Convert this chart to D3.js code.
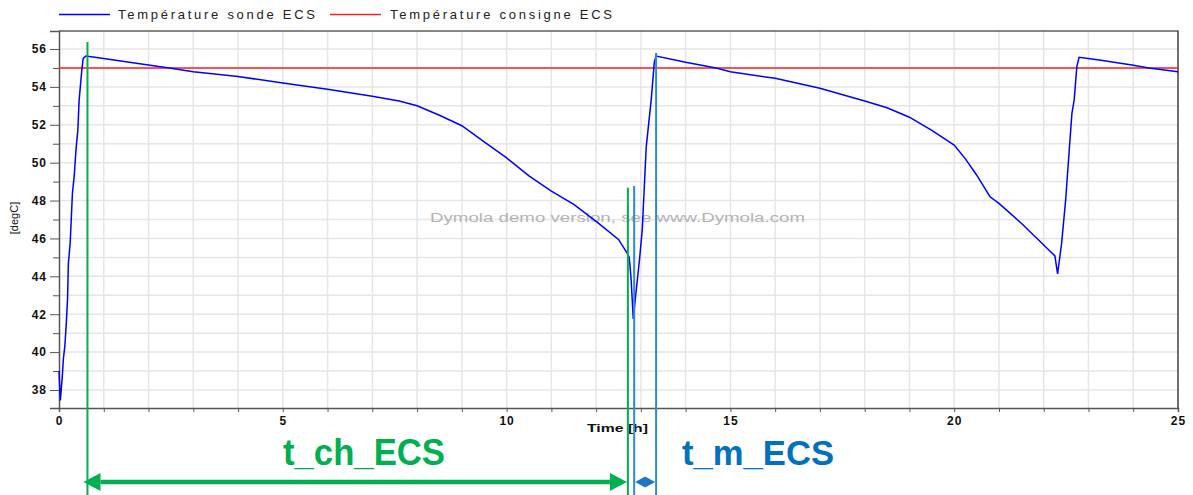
<!DOCTYPE html>
<html>
<head>
<meta charset="utf-8">
<script src="https://cdn.jsdelivr.net/npm/d3@7"></script>
<style>
  body { margin: 0; background: #fff; }
  text { font-family: "Liberation Sans", Arial, sans-serif; }
</style>
</head>
<body>
<svg id="chart" width="1193" height="495"></svg>
<script>
// temps (h) / température sonde ECS (degC)
const time = [0, 0.03, 0.07, 0.10, 0.13, 0.16, 0.19, 0.21, 0.25, 0.27, 0.30, 0.34, 0.38, 0.42, 0.45, 0.51, 0.54, 0.60,
  0.92, 1.65, 2.5, 3, 4, 5, 6, 7, 7.6, 8, 8.5, 9, 9.5, 10, 10.5, 11, 11.5, 12, 12.5, 12.7, 12.74,
  12.78, 12.83, 12.88, 12.97, 13.03, 13.12, 13.23, 13.30, 13.34,
  14, 14.68, 15, 16, 17, 18, 18.5, 19, 19.5, 20, 20.25, 20.5, 20.8, 21, 21.5, 22, 22.25,
  22.31, 22.4, 22.49, 22.57, 22.63, 22.68, 22.74, 22.79, 23.24, 23.97, 24.35, 25];
const sonde = [39.0, 37.45, 38.6, 39.7, 40.3, 41.4, 42.75, 44.7, 45.75, 46.8, 48.4, 49.3, 50.7, 51.7, 53.3, 54.9, 55.5, 55.63,
  55.52, 55.27, 54.98, 54.8, 54.55, 54.2, 53.87, 53.5, 53.25, 53.0, 52.5, 51.95, 51.1, 50.25, 49.3, 48.5, 47.8, 46.9, 45.95, 45.2, 45.0,
  43.9, 41.75, 42.9, 44.9, 46.45, 50.85, 53.3, 55.3, 55.63,
  55.3, 55.0, 54.8, 54.45, 53.93, 53.25, 52.9, 52.4, 51.7, 50.93, 50.2, 49.35, 48.2, 47.85, 46.8, 45.65, 45.08,
  44.13, 45.75, 48.03, 50.67, 52.6, 53.3, 55.07, 55.56, 55.42, 55.16, 55.0, 54.8];
const consigne = 55;

const xTicks = [0, 5, 10, 15, 20, 25];
const yTicks = [38, 40, 42, 44, 46, 48, 50, 52, 54, 56];

// repères t_ch_ECS / t_m_ECS : [temps, haut du trait en degC]
const greenMarks = [[0.636, 56.37], [12.71, 48.67]];
const blueMarks = [[12.85, 48.77], [13.34, 55.79]];

const svg = d3.select("#chart");
const pLeft = 59, pRight = 1178, pTop = 31, pBottom = 408;

const x = d3.scaleLinear().domain([0, 25]).range([pLeft, pRight]);
const y = d3.scaleLinear().domain([37.05, 56.95]).range([pBottom, pTop]);

// grille
const g = svg.append("g");
g.selectAll("line.gx").data(d3.range(1, 25)).enter().append("line")
  .attr("x1", d => x(d)).attr("x2", d => x(d)).attr("y1", pTop).attr("y2", pBottom)
  .attr("stroke", "#e6e6e6").attr("stroke-width", 1.5);
g.selectAll("line.gy").data(d3.range(38, 57)).enter().append("line")
  .attr("x1", pLeft).attr("x2", pRight).attr("y1", d => y(d)).attr("y2", d => y(d))
  .attr("stroke", "#e6e6e6").attr("stroke-width", 1.5);

// cadre haut / droite
svg.append("path")
  .attr("d", `M${pLeft},${pTop}H${pRight}V${pBottom}`)
  .attr("fill", "none").attr("stroke", "#111").attr("stroke-width", 1.2);

// axe Y
svg.append("g").attr("transform", `translate(${pLeft},0)`)
  .call(d3.axisLeft(y).tickValues(d3.range(39, 57, 2)).tickSize(6).tickFormat(""))
  .call(a => a.select(".domain").remove())
  .selectAll("line").attr("stroke", "#555");
svg.append("g").attr("transform", `translate(${pLeft},0)`)
  .call(d3.axisLeft(y).tickValues(yTicks).tickSize(9).tickPadding(3))
  .call(a => a.select(".domain").attr("stroke", "#555").attr("stroke-width", 1.5))
  .call(a => a.selectAll("line").attr("stroke", "#555"))
  .call(a => a.selectAll("text")
    .style("font-size", "12px").style("font-weight", "bold").style("letter-spacing", "1px").attr("fill", "#111"));

// axe X
svg.append("g").attr("transform", `translate(0,${pBottom})`)
  .call(d3.axisBottom(x).tickValues(d3.range(0, 26)).tickSize(4).tickFormat(""))
  .call(a => a.select(".domain").attr("stroke", "#555").attr("stroke-width", 1.5))
  .selectAll("line").attr("stroke", "#555");
svg.append("g").attr("transform", `translate(0,${pBottom})`)
  .call(d3.axisBottom(x).tickValues(xTicks).tickSize(0).tickPadding(8))
  .call(a => a.select(".domain").remove())
  .call(a => a.selectAll("text")
    .style("font-size", "12px").style("font-weight", "bold").style("letter-spacing", "1px").attr("fill", "#111"));

svg.append("text").attr("x", 587).attr("y", 432)
  .attr("textLength", 61).attr("lengthAdjust", "spacingAndGlyphs")
  .style("font-size", "11px").style("font-weight", "bold").attr("fill", "#111")
  .text("Time [h]");
svg.append("text").attr("transform", "translate(18,218) rotate(-90)")
  .attr("text-anchor", "middle")
  .style("font-size", "11px").attr("fill", "#111")
  .text("[degC]");

// filigrane
svg.append("text").attr("x", 430).attr("y", 222)
  .attr("textLength", 375).attr("lengthAdjust", "spacingAndGlyphs")
  .style("font-size", "13px").attr("fill", "#b4b4b4")
  .text("Dymola demo version, see www.Dymola.com");

// consigne
svg.append("line")
  .attr("x1", x(0)).attr("x2", x(25)).attr("y1", y(consigne)).attr("y2", y(consigne))
  .attr("stroke", "#ff2020").attr("stroke-width", 1.4);

// sonde
const line = d3.line().x(d => x(d[0])).y(d => y(d[1]));
svg.append("path")
  .datum(time.map((t, i) => [t, sonde[i]]))
  .attr("d", line)
  .attr("fill", "none").attr("stroke", "#0000ff").attr("stroke-width", 1.5);

// légende
const legend = [
  { label: "Température sonde ECS", color: "#0000ff", x0: 59, tx: 118, w: 197 },
  { label: "Température consigne ECS", color: "#ff2020", x0: 330, tx: 390, w: 222 }
];
legend.forEach(l => {
  svg.append("line").attr("x1", l.x0).attr("x2", l.x0 + 51).attr("y1", 14.5).attr("y2", 14.5)
    .attr("stroke", l.color).attr("stroke-width", 1.3);
  svg.append("text").attr("x", l.tx).attr("y", 19)
    .attr("textLength", l.w).attr("lengthAdjust", "spacing")
    .style("font-size", "13px").attr("fill", "#222").text(l.label);
});

// repères verticaux
const markBottom = 495;
svg.selectAll("line.green").data(greenMarks).enter().append("line")
  .attr("x1", d => x(d[0])).attr("x2", d => x(d[0]))
  .attr("y1", d => y(d[1])).attr("y2", markBottom)
  .attr("stroke", "#00b050").attr("stroke-width", 2);
svg.selectAll("line.blue").data(blueMarks).enter().append("line")
  .attr("x1", d => x(d[0])).attr("x2", d => x(d[0]))
  .attr("y1", d => y(d[1])).attr("y2", markBottom)
  .attr("stroke", "#2f8ad6").attr("stroke-width", 2);

// flèches
function arrow(x1, x2, yy, color, sw, hl, hh) {
  svg.append("line").attr("x1", x1 + hl).attr("x2", x2 - hl).attr("y1", yy).attr("y2", yy)
    .attr("stroke", color).attr("stroke-width", sw);
  svg.append("path")
    .attr("d", `M${x1},${yy}L${x1 + hl},${yy - hh}L${x1 + hl},${yy + hh}Z M${x2},${yy}L${x2 - hl},${yy - hh}L${x2 - hl},${yy + hh}Z`)
    .attr("fill", color);
}
const ay = 482;
arrow(x(greenMarks[0][0]) - 4, x(greenMarks[1][0]) - 1, ay, "#00b050", 4.5, 17, 9);
arrow(x(blueMarks[0][0]) + 1, x(blueMarks[1][0]) - 1, ay, "#1f74c8", 4, 10, 5.5);

svg.append("text").attr("x", 283).attr("y", 465)
  .style("font-size", "36px").style("font-weight", "bold").attr("fill", "#00b050")
  .attr("textLength", 162).attr("lengthAdjust", "spacingAndGlyphs")
  .text("t_ch_ECS");
svg.append("text").attr("x", 682).attr("y", 465)
  .style("font-size", "35px").style("font-weight", "bold").attr("fill", "#0070c0")
  .attr("textLength", 152).attr("lengthAdjust", "spacingAndGlyphs")
  .text("t_m_ECS");
</script>
</body>
</html>
